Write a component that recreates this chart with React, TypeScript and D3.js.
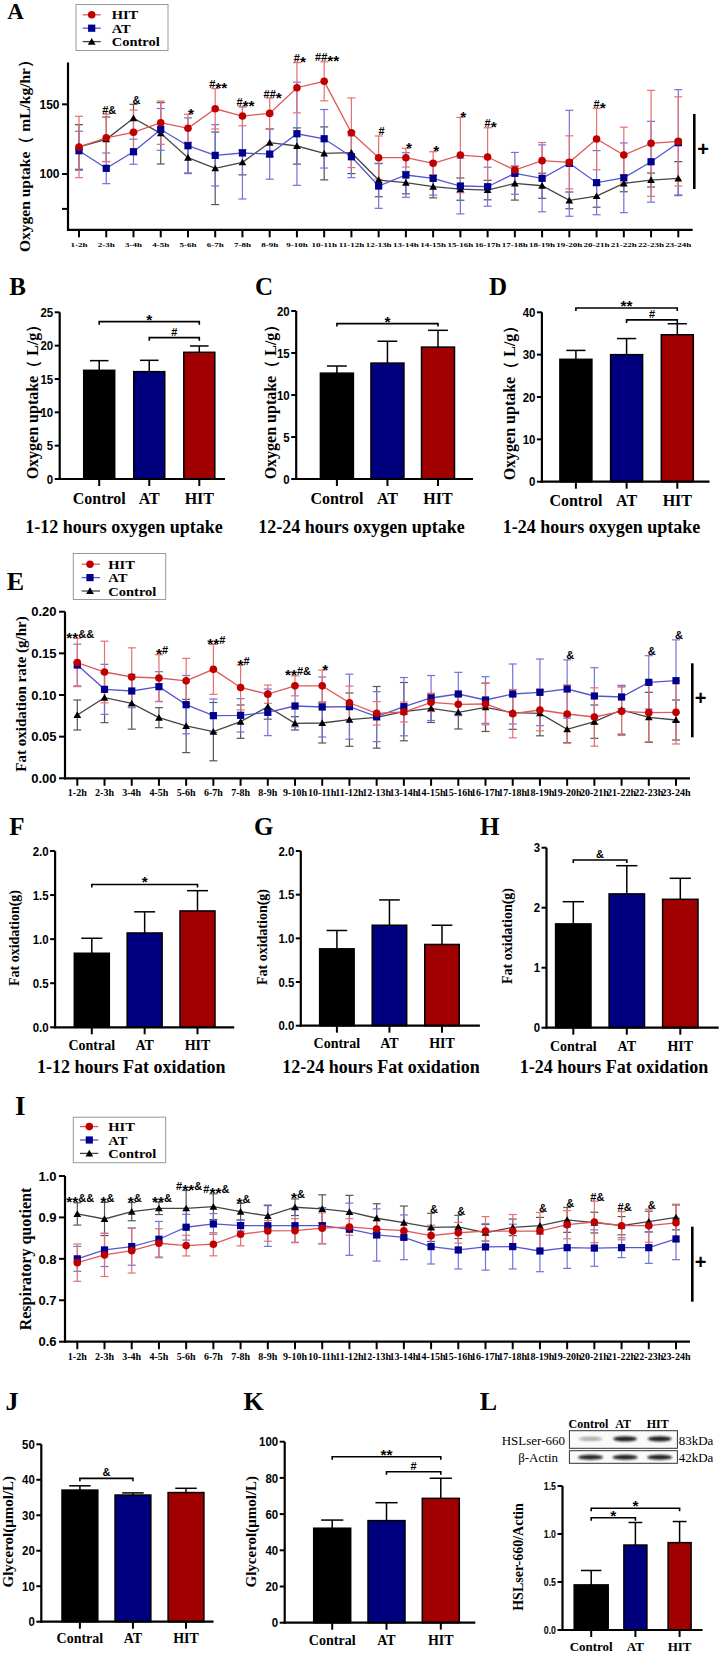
import React from "react";
import * as d3 from "d3";

// ---------------- DATA ----------------
const hours = ["1-2h","2-3h","3-4h","4-5h","5-6h","6-7h","7-8h","8-9h","9-10h","10-11h","11-12h","12-13h","13-14h","14-15h","15-16h","16-17h","17-18h","18-19h","19-20h","20-21h","21-22h","22-23h","23-24h"];
const seriesNames = ["HIT", "AT", "Control"];

// A: oxygen uptake (mL/kg/hr)
const o2HitMean = [119.4,126,129.9,136.8,132.8,146.8,141.6,143.5,161.9,166.5,129.6,111.7,111.7,107.7,113.6,112.2,102.9,109.6,108.4,125.1,113.6,122,123.4];
const o2HitSd = [22,17,16,15.5,10,14.5,7,11,18,14,25,15.6,6.7,8.3,27,21,3,13,19,22,20,38,32];
const o2AtMean = [116.7,104.1,116,132,120.3,113.4,115.1,114.3,128.9,125.3,112.4,91.4,99.3,96.9,91.4,90.9,100.5,96.9,107.7,93.8,97.3,108.8,122.5];
const o2AtSd = [14,11,9,15,20,22,33,18,37,21,15,16,16,12,20,14,15,24,38,23,25,29,38];
const o2CtrlMean = [119.4,124.9,140,129.2,111.7,104.1,108.4,122.5,120.1,114.8,115.3,95.7,93.8,90.9,89.2,88.5,93.3,91.6,81.1,84.2,93.3,95.7,96.9];
const o2CtrlSd = [16,16,10,22,11,26,9,10,13,19,15,12,8,8,8,7,12,9,6,8,6,5,12];
const o2Marks: [number, string][] = [[2,"#&"],[3,"&"],[5,"*"],[6,"#**"],[7,"#**"],[8,"##*"],[9,"#*"],[10,"##**"],[12,"#"],[13,"*"],[14,"*"],[15,"*"],[16,"#*"],[20,"#*"]];
const o2Ticks = [100, 150];

// E: fat oxidation rate (g/hr)
const foHitMean = [0.139,0.1276,0.1216,0.1204,0.117,0.1308,0.109,0.101,0.111,0.111,0.0907,0.078,0.0796,0.0912,0.0888,0.0892,0.0776,0.082,0.0772,0.0736,0.0804,0.0788,0.0792];
const foHitSd = [0.029,0.037,0.035,0.028,0.027,0.03,0.027,0.011,0.012,0.019,0.02,0.014,0.012,0.011,0.012,0.025,0.029,0.025,0.035,0.035,0.029,0.035,0.038];
const foAtMean = [0.136,0.1068,0.1048,0.11,0.0884,0.0752,0.0756,0.0792,0.0868,0.0856,0.086,0.074,0.086,0.0964,0.1012,0.094,0.1012,0.1032,0.1072,0.0988,0.0976,0.1152,0.1172];
const foAtSd = [0.025,0.03,0.02,0.018,0.035,0.02,0.02,0.028,0.025,0.036,0.039,0.03,0.035,0.027,0.026,0.028,0.036,0.04,0.035,0.034,0.014,0.032,0.049];
const foCtrlMean = [0.076,0.0968,0.09,0.0728,0.0628,0.056,0.068,0.086,0.066,0.0664,0.0704,0.0732,0.08,0.084,0.0792,0.0852,0.0788,0.078,0.0588,0.068,0.082,0.0732,0.07];
const foCtrlSd = [0.018,0.03,0.031,0.012,0.032,0.035,0.02,0.015,0.008,0.024,0.032,0.037,0.035,0.017,0.02,0.029,0.02,0.027,0.016,0.02,0.029,0.03,0.024];
const foMarks: [number, string][] = [[1,"**&&"],[4,"*#"],[6,"**#"],[7,"*#"],[9,"**#&"],[10,"*"],[19,"&"],[22,"&"],[23,"&"]];
const foTicks = [0, 0.05, 0.1, 0.15, 0.2];

// I: respiratory quotient
const rqHitMean = [0.7908,0.8094,0.8198,0.8377,0.832,0.8353,0.8594,0.8674,0.868,0.874,0.877,0.872,0.868,0.856,0.863,0.867,0.867,0.867,0.8824,0.889,0.88,0.88,0.887];
const rqHitSd = [0.045,0.052,0.054,0.035,0.025,0.028,0.028,0.025,0.029,0.037,0.02,0.02,0.02,0.025,0.025,0.035,0.04,0.045,0.034,0.05,0.034,0.04,0.045];
const rqAtMean = [0.8,0.8215,0.8296,0.8473,0.8763,0.8843,0.8802,0.88,0.88,0.88,0.8715,0.8577,0.852,0.8296,0.8215,0.8288,0.8296,0.819,0.827,0.826,0.827,0.827,0.848];
const rqAtSd = [0.03,0.04,0.045,0.043,0.031,0.025,0.013,0.05,0.04,0.044,0.063,0.063,0.054,0.042,0.046,0.056,0.054,0.05,0.05,0.044,0.024,0.038,0.05];
const rqCtrlMean = [0.9085,0.8962,0.914,0.922,0.922,0.926,0.914,0.9036,0.9246,0.9205,0.9133,0.898,0.8875,0.876,0.877,0.863,0.876,0.88,0.894,0.8875,0.88,0.89,0.9];
const rqCtrlSd = [0.027,0.04,0.022,0.015,0.043,0.031,0.02,0.025,0.02,0.034,0.04,0.035,0.04,0.034,0.028,0.02,0.02,0.02,0.03,0.025,0.022,0.025,0.03];
const rqMarks: [number, string][] = [[1,"**&&"],[2,"*&"],[3,"*&"],[4,"**&"],[5,"#**&"],[6,"#**&"],[7,"*&"],[9,"*&"],[14,"&"],[15,"&"],[18,"&"],[19,"&"],[20,"#&"],[21,"#&"],[22,"&"]];
const rqTicks = [0.6, 0.7, 0.8, 0.9, 1.0];

// Bar panels
const groupsA = ["Control", "AT", "HIT"];
const groupsB = ["Contral", "AT", "HIT"];
const o2Hours1to12 = [16.3, 16.1, 19.0];
const o2Hours1to12Err = [1.45, 1.7, 0.95];
const o2Hours12to24 = [12.6, 13.8, 15.7];
const o2Hours12to24Err = [0.85, 2.6, 2.0];
const o2Hours1to24 = [28.9, 30.0, 34.7];
const o2Hours1to24Err = [2.1, 3.8, 2.6];
const fat1to12 = [0.84, 1.07, 1.32];
const fat1to12Err = [0.17, 0.24, 0.23];
const fat12to24 = [0.88, 1.15, 0.93];
const fat12to24Err = [0.21, 0.29, 0.22];
const fat1to24 = [1.73, 2.23, 2.14];
const fat1to24Err = [0.37, 0.47, 0.35];
const glycerolJ = [37.1, 35.7, 36.4];
const glycerolJErr = [1.2, 0.6, 1.2];
const glycerolK = [52.2, 56.4, 68.7];
const glycerolKErr = [4.5, 9.9, 11.1];
const hslRatio = [0.47, 0.885, 0.91];
const hslRatioErr = [0.15, 0.235, 0.22];
const hslBand = [0.35, 0.92, 0.92];
const actinBand = [0.9, 0.92, 0.92];

// ---------------- STYLES ----------------
const SER = "Liberation Serif";
const SANS = "Liberation Sans";
const sty: Record<string, { mark: string; line: string; err: string; shape: string }> = {
  HIT: { mark: "#c00000", line: "#e05858", err: "#e57070", shape: "circle" },
  AT: { mark: "#00008c", line: "#5656d0", err: "#7272dc", shape: "square" },
  Control: { mark: "#000000", line: "#444444", err: "#555555", shape: "triangle" },
};
const barFill: Record<string, string> = { Control: "#000000", Contral: "#000000", AT: "#00007e", HIT: "#a00000" };

function Marker({ shape, x, y, color }: any) {
  if (shape === "circle") return <circle cx={x} cy={y} r={3.8} fill={color} />;
  if (shape === "square") return <rect x={x - 3.6} y={y - 3.6} width={7.2} height={7.2} fill={color} />;
  const p = d3.symbol().type(d3.symbolTriangle).size(26)()!;
  return <path d={p} transform={`translate(${x},${y + 0.8})`} fill={color} />;
}

function Annot({ x, y, text, size }: any) {
  return (
    <text x={x} y={y} textAnchor="middle" fontFamily={SANS} fontWeight="bold" fontSize={size}>
      {[...text].map((c: string, i: number) =>
        c === "*" ? (
          <tspan key={i} fontSize={size * 1.4} baselineShift={-size * 0.47}>*</tspan>
        ) : (
          <tspan key={i}>{c}</tspan>
        )
      )}
    </text>
  );
}

function VText({ x, y, size, children, family = SER, sy = 1 }: any) {
  return (
    <text transform={`translate(${x},${y}) rotate(-90) scale(1,${sy})`} textAnchor="middle" dy="0.35em"
      fontSize={size} fontFamily={family} fontWeight="bold">{children}</text>
  );
}

function Letter({ x, y, size, t }: any) {
  return <text x={x} y={y} fontFamily={SER} fontWeight="bold" fontSize={size}>{t}</text>;
}

function Legend({ c }: any) {
  return (
    <g>
      <rect x={c.x} y={c.y} width={c.w} height={c.h} fill="white" stroke="#999" strokeWidth={1} />
      {seriesNames.map((n, i) => (
        <g key={n}>
          <line x1={c.lx1} x2={c.lx2} y1={c.rows[i]} y2={c.rows[i]} stroke={sty[n].line} strokeWidth={1.3} />
          <Marker shape={sty[n].shape} x={c.mx} y={c.rows[i]} color={sty[n].mark} />
          <text transform={`translate(${c.tx},${c.rows[i] + 4.6}) scale(1,0.84)`} fontFamily={SER} fontWeight="bold" fontSize={14.5}>{n}</text>
        </g>
      ))}
    </g>
  );
}

function LineChart({ c, data, marks }: any) {
  const x = d3.scalePoint<string>().domain(hours).range([c.first, c.last]);
  const y = d3.scaleLinear().domain(c.domain).range([c.yBottom, c.yTop]);
  const fmt = d3.format(c.fmt);
  const order = ["Control", "AT", "HIT"];
  const line = d3.line<number>().x((_, i) => x(hours[i])!).y((d) => y(d));
  const upper = (i: number) => d3.max(order, (n) => data[n].mean[i] + data[n].sd[i])!;
  return (
    <g>
      {order.map((n) => (
        <g key={"e" + n} stroke={sty[n].err} strokeWidth={1.2}>
          {data[n].mean.map((m: number, i: number) => {
            const xi = x(hours[i])!;
            const t = y(m + data[n].sd[i]);
            const b = y(m - data[n].sd[i]);
            return (
              <g key={i}>
                <line x1={xi} x2={xi} y1={t} y2={b} />
                <line x1={xi - 4} x2={xi + 4} y1={t} y2={t} />
                <line x1={xi - 4} x2={xi + 4} y1={b} y2={b} />
              </g>
            );
          })}
        </g>
      ))}
      {order.map((n) => (
        <path key={"l" + n} d={line(data[n].mean)!} fill="none" stroke={sty[n].line} strokeWidth={1.3} />
      ))}
      {order.map((n) => (
        <g key={"m" + n}>
          {data[n].mean.map((m: number, i: number) => (
            <Marker key={i} shape={sty[n].shape} x={x(hours[i])!} y={y(m)} color={sty[n].mark} />
          ))}
        </g>
      ))}
      <line x1={c.axisX} x2={c.axisX} y1={c.yBottom + 1} y2={c.yTop} stroke="#000" strokeWidth={2.2} />
      <line x1={c.axisX - 1} x2={c.axisEnd} y1={c.yBottom} y2={c.yBottom} stroke="#000" strokeWidth={2.2} />
      {c.ticks.map((t: number) => (
        <g key={t}>
          <line x1={c.axisX - 6} x2={c.axisX} y1={y(t)} y2={y(t)} stroke="#000" strokeWidth={2} />
          <text x={c.axisX - 8.5} y={y(t)} dy="0.36em" textAnchor="end" fontFamily={SANS} fontWeight="bold" fontSize={c.tickSize}>{fmt(t)}</text>
        </g>
      ))}
      {(c.minor || []).map((t: number) => (
        <line key={"mi" + t} x1={c.axisX - 6} x2={c.axisX} y1={y(t)} y2={y(t)} stroke="#000" strokeWidth={2} />
      ))}
      {hours.map((h) => (
        <g key={h}>
          <line x1={x(h)!} x2={x(h)!} y1={c.yBottom} y2={c.yBottom + 7.5} stroke="#000" strokeWidth={2} />
          <text transform={`translate(${x(h)!},${c.xLabelY}) scale(1,${c.xLabelSy})`} dy="0.35em" textAnchor="middle"
            fontFamily={SER} fontWeight="bold" fontSize={c.xLabelSize}>{h}</text>
        </g>
      ))}
      {marks.map(([p, t]: [number, string]) => (
        <Annot key={p} x={x(hours[p - 1])! + 3} y={y(upper(p - 1)) - 0.5} text={t} size={11} />
      ))}
      <VText x={c.yLabelX} y={c.yLabelY} size={c.yLabelSize}>{c.yLabel}</VText>
      <line x1={c.plus.x} x2={c.plus.x} y1={c.plus.y1} y2={c.plus.y2} stroke="#000" strokeWidth={2.6} />
      <text x={c.plus.px} y={c.plus.py} dy="0.35em" textAnchor="middle" fontFamily={SANS} fontWeight="bold" fontSize={20}>+</text>
    </g>
  );
}

function BarChart({ c }: any) {
  const x = d3.scalePoint<string>().domain(c.cats).range([c.c0, c.c2]);
  const y = d3.scaleLinear().domain([0, c.max]).range([c.y0, c.yTop]);
  const fmt = d3.format(c.fmt);
  return (
    <g>
      {c.cats.map((k: string, i: number) => {
        const w = c.widths ? c.widths[i] : c.barW;
        const cx = x(k)!;
        const top = y(c.values[i]);
        const et = y(c.values[i] + c.errs[i]);
        return (
          <g key={k}>
            <line x1={cx} x2={cx} y1={top} y2={et} stroke="#000" strokeWidth={1.5} />
            <line x1={cx - w * 0.3} x2={cx + w * 0.3} y1={et} y2={et} stroke="#000" strokeWidth={1.5} />
            <rect x={cx - w / 2} y={top} width={w} height={c.y0 - top} fill={barFill[k]} stroke="#000" strokeWidth={1.5} />
          </g>
        );
      })}
      <line x1={c.axisX} x2={c.axisX} y1={c.y0 + 1} y2={c.yTop} stroke="#000" strokeWidth={2.2} />
      <line x1={c.axisX - 1} x2={c.axisEnd} y1={c.y0} y2={c.y0} stroke="#000" strokeWidth={2.2} />
      {c.ticks.map((t: number) => (
        <g key={t}>
          <line x1={c.axisX - 5} x2={c.axisX} y1={y(t)} y2={y(t)} stroke="#000" strokeWidth={2} />
          <text transform={`translate(${c.axisX - 6.5},${y(t)}) scale(0.88,1)`} dy="0.36em" textAnchor="end" fontFamily={SANS} fontWeight="bold" fontSize={c.tickSize}>{fmt(t)}</text>
        </g>
      ))}
      {c.cats.map((k: string) => (
        <g key={"t" + k}>
          <line x1={x(k)!} x2={x(k)!} y1={c.y0} y2={c.y0 + 7} stroke="#000" strokeWidth={2} />
          <text x={x(k)!} y={c.catY} dy="0.35em" textAnchor="middle" fontFamily={SER} fontWeight="bold" fontSize={c.catSize}>{k}</text>
        </g>
      ))}
      {c.sig.map((s: any, i: number) => {
        const x1 = x(c.cats[s.a])!;
        const x2 = x(c.cats[s.b])!;
        const yy = y(s.v);
        return (
          <g key={i}>
            <path d={`M${x1},${yy + 3}V${yy}H${x2}V${yy + 3}`} fill="none" stroke="#000" strokeWidth={1.6} />
            <Annot x={(x1 + x2) / 2} y={yy - 2} text={s.t} size={11} />
          </g>
        );
      })}
      {c.title && (
        <text x={c.titleX} y={c.titleY} dy="0.35em" textAnchor="middle" fontFamily={SER} fontWeight="bold" fontSize={18}>{c.title}</text>
      )}
      <VText x={c.yLabelX} y={c.yLabelY} size={c.yLabelSize}>{c.yLabel}</VText>
    </g>
  );
}

// ---------------- LAYOUT ----------------
const cfgA = { axisX: 68, axisEnd: 692.7, first: 79, last: 678.3, domain: [60, 180], yBottom: 229.8, yTop: 62.5, ticks: o2Ticks, minor: [75], fmt: "d", tickSize: 12, xLabelY: 245, xLabelSize: 9, xLabelSy: 0.7, yLabel: "Oxygen uptake（ mL/kg/hr）", yLabelX: 25, yLabelY: 152, yLabelSize: 15.5, plus: { x: 694.3, y1: 114, y2: 189, px: 703, py: 149 } };
const cfgE = { axisX: 65, axisEnd: 690, first: 77.3, last: 676, domain: [0, 0.2], yBottom: 778.3, yTop: 611.7, ticks: foTicks, fmt: ".2f", tickSize: 13, xLabelY: 792.3, xLabelSize: 10, xLabelSy: 1, yLabel: "Fat oxidation rate (g/hr)", yLabelX: 21, yLabelY: 694, yLabelSize: 15, plus: { x: 692.3, y1: 663.3, y2: 737.3, px: 700.5, py: 698.3 } };
const cfgI = { axisX: 65, axisEnd: 690, first: 77.3, last: 676, domain: [0.6, 1.0], yBottom: 1341.7, yTop: 1176, ticks: rqTicks, fmt: ".1f", tickSize: 13, xLabelY: 1356.7, xLabelSize: 10, xLabelSy: 1, yLabel: "Respiratory quotient", yLabelX: 25, yLabelY: 1259, yLabelSize: 16, plus: { x: 692.3, y1: 1226.7, y2: 1301.7, px: 700.5, py: 1262.3 } };

const legA = { x: 76, y: 4.5, w: 92, h: 46, rows: [14.8, 28.2, 41.6], lx1: 82.7, lx2: 100.7, mx: 91.7, tx: 111.7 };
const legE = { x: 73.3, y: 553.5, w: 92.4, h: 46, rows: [564.2, 577.6, 591], lx1: 81.7, lx2: 100, mx: 90, tx: 108.3 };
const legI = { x: 73.3, y: 1117.2, w: 92.4, h: 45.5, rows: [1126.6, 1140, 1153.4], lx1: 80, lx2: 98.3, mx: 89.3, tx: 108.3 };

const oxLabel = "Oxygen uptake（ L/g）";
const barCfgs = [
  { cats: groupsA, values: o2Hours1to12, errs: o2Hours1to12Err, axisX: 59.7, axisEnd: 225, y0: 479, yTop: 312.3, max: 25, ticks: [0, 5, 10, 15, 20, 25], fmt: "d", tickSize: 13, c0: 99.2, c2: 199.3, barW: 31, catY: 498, catSize: 16, title: "1-12 hours oxygen uptake", titleX: 124, titleY: 526.7, yLabel: oxLabel, yLabelX: 32, yLabelY: 398, yLabelSize: 16, sig: [{ a: 0, b: 2, v: 23.6, t: "*" }, { a: 1, b: 2, v: 21.2, t: "#" }] },
  { cats: groupsA, values: o2Hours12to24, errs: o2Hours12to24Err, axisX: 296.2, axisEnd: 473, y0: 479, yTop: 311, max: 20, ticks: [0, 5, 10, 15, 20], fmt: "d", tickSize: 13, c0: 336.9, c2: 438, barW: 33, catY: 498, catSize: 16, title: "12-24 hours oxygen uptake", titleX: 361.6, titleY: 526.7, yLabel: oxLabel, yLabelX: 270, yLabelY: 398, yLabelSize: 16, sig: [{ a: 0, b: 2, v: 18.5, t: "*" }] },
  { cats: groupsA, values: o2Hours1to24, errs: o2Hours1to24Err, axisX: 541.9, axisEnd: 709.5, y0: 481.7, yTop: 312.3, max: 40, ticks: [0, 10, 20, 30, 40], fmt: "d", tickSize: 13, c0: 575.9, c2: 677.3, barW: 32, catY: 500, catSize: 16, title: "1-24 hours oxygen uptake", titleX: 601.6, titleY: 526.7, yLabel: oxLabel, yLabelX: 509, yLabelY: 399, yLabelSize: 16, sig: [{ a: 0, b: 2, v: 41, t: "**" }, { a: 1, b: 2, v: 38.2, t: "#" }] },
  { cats: groupsB, values: fat1to12, errs: fat1to12Err, axisX: 55.1, axisEnd: 234.2, y0: 1027.3, yTop: 851, max: 2, ticks: [0, 0.5, 1, 1.5, 2], fmt: ".1f", tickSize: 13, c0: 91.8, c2: 197.5, barW: 35, catY: 1045, catSize: 14, title: "1-12 hours Fat oxidation", titleX: 131.3, titleY: 1066.7, yLabel: "Fat oxidation(g)", yLabelX: 14, yLabelY: 938, yLabelSize: 14, sig: [{ a: 0, b: 2, v: 1.62, t: "*" }] },
  { cats: groupsB, values: fat12to24, errs: fat12to24Err, axisX: 300.8, axisEnd: 479.9, y0: 1025.7, yTop: 851, max: 2, ticks: [0, 0.5, 1, 1.5, 2], fmt: ".1f", tickSize: 13, c0: 336.9, c2: 442, barW: 34.5, catY: 1043, catSize: 14, title: "12-24 hours Fat oxidation", titleX: 381, titleY: 1066.7, yLabel: "Fat oxidation(g)", yLabelX: 262, yLabelY: 937, yLabelSize: 14, sig: [] },
  { cats: groupsB, values: fat1to24, errs: fat1to24Err, axisX: 546.5, axisEnd: 718.7, y0: 1027.7, yTop: 847.7, max: 3, ticks: [0, 1, 2, 3], fmt: "d", tickSize: 13, c0: 573.3, c2: 680.3, barW: 35.4, catY: 1046, catSize: 14, title: "1-24 hours Fat oxidation", titleX: 614, titleY: 1066.7, yLabel: "Fat oxidation(g)", yLabelX: 507.5, yLabelY: 936, yLabelSize: 14, sig: [{ a: 0, b: 1, v: 2.795, t: "&" }] },
  { cats: groupsB, values: glycerolJ, errs: glycerolJErr, axisX: 41.3, axisEnd: 213.5, y0: 1621.7, yTop: 1444.3, max: 50, ticks: [0, 10, 20, 30, 40, 50], fmt: "d", tickSize: 13, c0: 79.9, c2: 186, barW: 35.8, catY: 1638, catSize: 14, yLabel: "Glycerol(μmol/L)", yLabelX: 8, yLabelY: 1531.7, yLabelSize: 15, sig: [{ a: 0, b: 1, v: 40.4, t: "&" }] },
  { cats: groupsB, values: glycerolK, errs: glycerolKErr, axisX: 284.7, axisEnd: 475.3, y0: 1622.7, yTop: 1441.7, max: 100, ticks: [0, 20, 40, 60, 80, 100], fmt: "d", tickSize: 13, c0: 332.2, c2: 440.8, barW: 37, catY: 1640, catSize: 14, yLabel: "Glycerol(μmol/L)", yLabelX: 251, yLabelY: 1531.7, yLabelSize: 15, sig: [{ a: 0, b: 2, v: 91.7, t: "**" }, { a: 1, b: 2, v: 83.4, t: "#" }] },
  { cats: groupsA, values: hslRatio, errs: hslRatioErr, axisX: 562.5, axisEnd: 702.6, y0: 1630, yTop: 1486, max: 1.5, ticks: [0, 0.5, 1, 1.5], fmt: ".1f", tickSize: 10, c0: 591.2, c2: 679.6, widths: [34, 23, 23], barW: 23, catY: 1646.5, catSize: 13, yLabel: "HSLser-660/Actin", yLabelX: 518, yLabelY: 1557, yLabelSize: 14, sig: [{ a: 0, b: 2, v: 1.268, t: "*" }, { a: 0, b: 1, v: 1.17, t: "*" }] },
];

const letters: [string, number, number, number][] = [
  ["A", 7.3, 19.3, 23], ["B", 9.2, 295, 25], ["C", 254.9, 295, 25], ["D", 489, 295, 25],
  ["E", 6.7, 590, 26], ["F", 9.2, 835, 25], ["G", 254, 835, 25], ["H", 480, 835, 25],
  ["I", 15, 1115, 27], ["J", 5.5, 1410, 26], ["K", 243.4, 1410, 26], ["L", 479.8, 1410, 26],
];

function Blot() {
  const lane = d3.scalePoint<string>().domain(groupsA).range([590.5, 659.7]);
  return (
    <g>
      <defs>
        <filter id="blur" x="-50%" y="-100%" width="200%" height="300%"><feGaussianBlur stdDeviation="1.1" /></filter>
      </defs>
      {groupsA.map((g) => (
        <text key={g} x={lane(g)! - 2} y={1423.3} dy="0.35em" textAnchor="middle" fontFamily={SER} fontWeight="bold" fontSize={12}>{g}</text>
      ))}
      <rect x={569.4} y={1430.7} width={108} height={17.6} fill="#fafafa" stroke="#333" strokeWidth={1} />
      <rect x={569.4} y={1450.7} width={108} height={12.6} fill="#fafafa" stroke="#333" strokeWidth={1} />
      {groupsA.map((g, i) => (
        <g key={"b" + g} filter="url(#blur)">
          <ellipse cx={lane(g)!} cy={1438.8} rx={12} ry={i === 0 ? 2 : 2.6} fill="#111" opacity={hslBand[i]} />
          <ellipse cx={lane(g)!} cy={1457.2} rx={12.5} ry={2.5} fill="#111" opacity={actinBand[i]} />
        </g>
      ))}
      <text x={565} y={1440} dy="0.35em" textAnchor="end" fontFamily={SER} fontSize={13}>HSLser-660</text>
      <text x={558} y={1457.5} dy="0.35em" textAnchor="end" fontFamily={SER} fontSize={13}>β-Actin</text>
      <text x={678.7} y={1440} dy="0.35em" fontFamily={SER} fontSize={13}>83kDa</text>
      <text x={678.7} y={1457.5} dy="0.35em" fontFamily={SER} fontSize={13}>42kDa</text>
    </g>
  );
}

export default function App() {
  const dataA = { HIT: { mean: o2HitMean, sd: o2HitSd }, AT: { mean: o2AtMean, sd: o2AtSd }, Control: { mean: o2CtrlMean, sd: o2CtrlSd } };
  const dataE = { HIT: { mean: foHitMean, sd: foHitSd }, AT: { mean: foAtMean, sd: foAtSd }, Control: { mean: foCtrlMean, sd: foCtrlSd } };
  const dataI = { HIT: { mean: rqHitMean, sd: rqHitSd }, AT: { mean: rqAtMean, sd: rqAtSd }, Control: { mean: rqCtrlMean, sd: rqCtrlSd } };
  return (
    <svg width={720} height={1653} style={{ position: "absolute", left: 0, top: 0, background: "#fff" }} fontFamily={SER}>
      <rect x={0} y={0} width={720} height={1653} fill="#fff" />
      {letters.map(([t, x, y, s]) => <Letter key={t} t={t} x={x} y={y} size={s} />)}
      <LineChart c={cfgA} data={dataA} marks={o2Marks} />
      <Legend c={legA} />
      <LineChart c={cfgE} data={dataE} marks={foMarks} />
      <Legend c={legE} />
      <LineChart c={cfgI} data={dataI} marks={rqMarks} />
      <Legend c={legI} />
      {barCfgs.map((c, i) => <BarChart key={i} c={c} />)}
      <Blot />
    </svg>
  );
}
